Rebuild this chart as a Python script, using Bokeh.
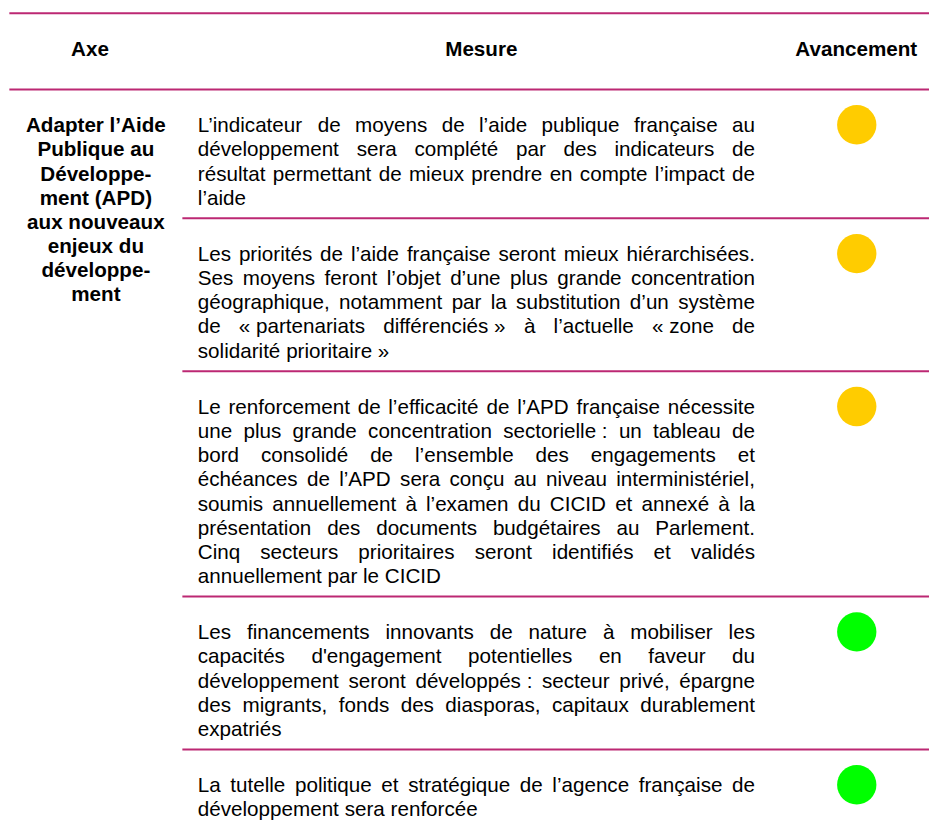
from bokeh.plotting import figure
from bokeh.models import Range1d
from bokeh.core.properties import value
from bokeh.embed import file_html
from bokeh.resources import INLINE

# ---------------- data ----------------
headers = ["Axe", "Mesure", "Avancement"]

axe_lines = ["Adapter l\u2019Aide", "Publique au", "D\u00e9veloppe-", "ment (APD)",
             "aux nouveaux", "enjeux du", "d\u00e9veloppe-", "ment"]

mesure_1 = [
    "L\u2019indicateur de moyens de l\u2019aide publique fran\u00e7aise au",
    "d\u00e9veloppement sera compl\u00e9t\u00e9 par des indicateurs de",
    "r\u00e9sultat permettant de mieux prendre en compte l\u2019impact de",
    "l\u2019aide",
]
mesure_2 = [
    "Les priorit\u00e9s de l\u2019aide fran\u00e7aise seront mieux hi\u00e9rarchis\u00e9es.",
    "Ses moyens feront l\u2019objet d\u2019une plus grande concentration",
    "g\u00e9ographique, notamment par la substitution d\u2019un syst\u00e8me",
    "de \u00ab\u00a0partenariats diff\u00e9renci\u00e9s\u00a0\u00bb \u00e0 l\u2019actuelle \u00ab\u00a0zone de",
    "solidarit\u00e9 prioritaire\u00a0\u00bb",
]
mesure_3 = [
    "Le renforcement de l\u2019efficacit\u00e9 de l\u2019APD fran\u00e7aise n\u00e9cessite",
    "une plus grande concentration sectorielle\u00a0: un tableau de",
    "bord consolid\u00e9 de l\u2019ensemble des engagements et",
    "\u00e9ch\u00e9ances de l\u2019APD sera con\u00e7u au niveau interminist\u00e9riel,",
    "soumis annuellement \u00e0 l\u2019examen du CICID et annex\u00e9 \u00e0 la",
    "pr\u00e9sentation des documents budg\u00e9taires au Parlement.",
    "Cinq secteurs prioritaires seront identifi\u00e9s et valid\u00e9s",
    "annuellement par le CICID",
]
mesure_4 = [
    "Les financements innovants de nature \u00e0 mobiliser les",
    "capacit\u00e9s d'engagement potentielles en faveur du",
    "d\u00e9veloppement seront d\u00e9velopp\u00e9s\u00a0: secteur priv\u00e9, \u00e9pargne",
    "des migrants, fonds des diasporas, capitaux durablement",
    "expatri\u00e9s",
]
mesure_5 = [
    "La tutelle politique et strat\u00e9gique de l\u2019agence fran\u00e7aise de",
    "d\u00e9veloppement sera renforc\u00e9e",
]
mesures = [mesure_1, mesure_2, mesure_3, mesure_4, mesure_5]

avancement = ["orange", "orange", "orange", "vert", "vert"]
status_colors = {"orange": "#FFCC00", "vert": "#00FF00"}

# ---------------- layout / style ----------------
PW, PH = 929, 823          # figure size (fits the window with the 8px margin)
DW, DH = 945, 839          # design space (reference pixels)
SX = DW / PW               # data units per screen pixel
FONT = "Liberation Sans"
FS = 21.0 / SX             # font size in screen px
RULE = "#BC2873"
TOP_RULE = 13
HEAD_RULE = 90.7
HEAD_BASE = 49
FIRST_BASE = 36.0
LINE_H = 24.6
ROW_PAD = 21.5
COL_AXE = 97
COL_LEFT = 200.7
COL_RIGHT = 767.5
COL_DOT = 871
SEP_X0 = 185

# Arial / Helvetica advance widths (1/1000 em)
W = {" ": 278, "\u00a0": 278, "'": 191, "\u2019": 222, "(": 333, ")": 333, ",": 278,
     "-": 333, ".": 278, ":": 278, ";": 278, "\u00ab": 556, "\u00bb": 556,
     "A": 667, "B": 667, "C": 722, "D": 722, "E": 667, "F": 611, "G": 778, "H": 722,
     "I": 278, "J": 500, "K": 667, "L": 556, "M": 833, "N": 722, "O": 778, "P": 667,
     "Q": 778, "R": 722, "S": 667, "T": 611, "U": 722, "V": 667, "W": 944, "X": 667,
     "Y": 667, "Z": 611,
     "a": 556, "b": 556, "c": 500, "d": 556, "e": 556, "f": 278, "g": 556, "h": 556,
     "i": 222, "j": 222, "k": 500, "l": 222, "m": 833, "n": 556, "o": 556, "p": 556,
     "q": 556, "r": 333, "s": 500, "t": 278, "u": 556, "v": 500, "w": 722, "x": 500,
     "y": 500, "z": 500,
     "\u00e9": 556, "\u00e8": 556, "\u00ea": 556, "\u00e0": 556, "\u00e2": 556,
     "\u00e7": 500, "\u00f4": 556, "\u00ee": 278, "\u00fb": 556, "\u00f9": 556}


def tw(s):
    """width of a string in data units"""
    return sum(W.get(c, 556) for c in s) * FS / 1000.0 * SX


p = figure(width=PW, height=PH, x_range=Range1d(0, DW), y_range=Range1d(DH, 0),
           output_backend="svg", toolbar_location=None, min_border=0,
           x_axis_type=None, y_axis_type=None)
p.xgrid.visible = False
p.ygrid.visible = False
p.outline_line_color = None
p.background_fill_color = "white"
p.border_fill_color = "white"

# rules
seg_x0 = [9, 9]
seg_y = [TOP_RULE, HEAD_RULE]
row_tops = []
y = HEAD_RULE
for lines in mesures:
    row_tops.append(y)
    y = y + FIRST_BASE + (len(lines) - 1) * LINE_H + ROW_PAD
for t in row_tops[1:]:
    seg_x0.append(SEP_X0)
    seg_y.append(t)
p.segment(x0=seg_x0, y0=seg_y, x1=[DW] * len(seg_y), y1=seg_y,
          line_color=RULE, line_width=2)

fs_str = f"{FS:.2f}px"

# headers
p.text(x=[COL_AXE - 6, (COL_LEFT + COL_RIGHT) / 2 + 5, COL_DOT - 0.5], y=[HEAD_BASE] * 3,
       text=headers, text_align="center", text_baseline="alphabetic",
       text_font=value(FONT), text_font_size=fs_str, text_font_style="bold",
       text_color="#000000")

# axe column
p.text(x=[COL_AXE] * len(axe_lines),
       y=[row_tops[0] + FIRST_BASE + i * LINE_H for i in range(len(axe_lines))],
       text=axe_lines, text_align="center", text_baseline="alphabetic",
       text_font=value(FONT), text_font_size=fs_str, text_font_style="bold",
       text_color="#000000")

# mesure column: justified words
wx, wy, wt = [], [], []
for top, lines in zip(row_tops, mesures):
    for i, line in enumerate(lines):
        base = top + FIRST_BASE + i * LINE_H
        words = line.split(" ")
        widths = [tw(w) for w in words]
        if i < len(lines) - 1 and len(words) > 1:
            gap = (COL_RIGHT - COL_LEFT - sum(widths)) / (len(words) - 1)
        else:
            gap = tw(" ")
        x = COL_LEFT
        for w, wd in zip(words, widths):
            wx.append(x)
            wy.append(base)
            wt.append(w)
            x += wd + gap
p.text(x=wx, y=wy, text=wt, text_align="left", text_baseline="alphabetic",
       text_font=value(FONT), text_font_size=fs_str, text_color="#000000")

# status dots
dot_y = [t + FIRST_BASE for t in row_tops]
p.scatter(x=[COL_DOT] * len(dot_y), y=dot_y, marker="circle", size=40 / SX,
          fill_color=[status_colors[s] for s in avancement], line_color=None)

open("out.html", "w").write(file_html(p, INLINE))
